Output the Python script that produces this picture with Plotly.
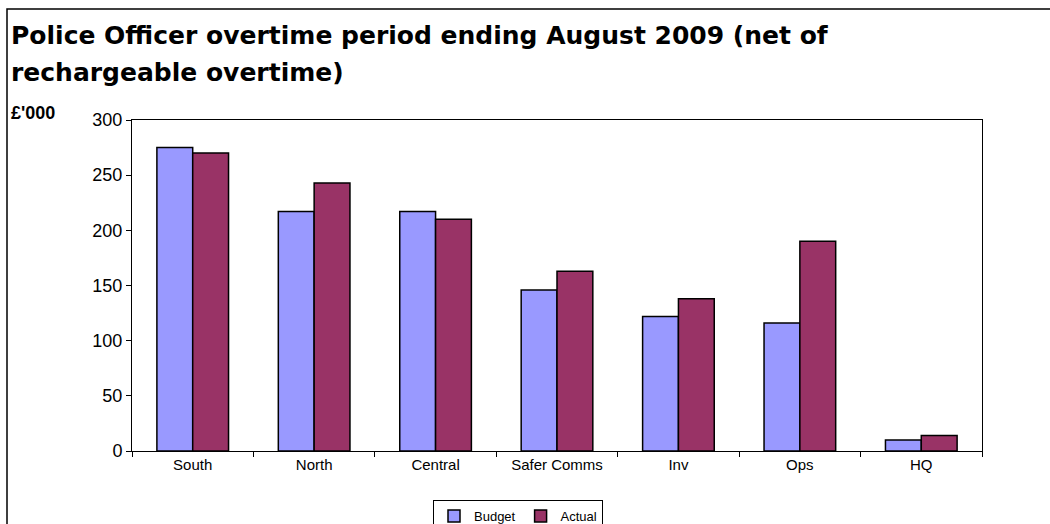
import plotly.graph_objects as go

categories = ["South", "North", "Central", "Safer Comms", "Inv", "Ops", "HQ"]
budget = [275, 217, 217, 146, 122, 116, 10]
actual = [270, 243, 210, 163, 138, 190, 14]
y_ticks = [0, 50, 100, 150, 200, 250, 300]

W, H = 1050, 524
L, R, T, B = 132, 982, 120, 451

def px(x):
    return (x - L) / (R - L)

def py(y):
    return (B - y) / (B - T)

fig = go.Figure()
fig.add_trace(go.Bar(name="Budget", x=categories, y=budget,
                     marker=dict(color="#9999FF", line=dict(color="black", width=1.5))))
fig.add_trace(go.Bar(name="Actual", x=categories, y=actual,
                     marker=dict(color="#993366", line=dict(color="black", width=1.5))))

fig.update_layout(
    width=W, height=H,
    margin=dict(l=L, r=W - R, t=T, b=H - B, autoexpand=False),
    paper_bgcolor="white", plot_bgcolor="white",
    barmode="group", bargap=0.41, bargroupgap=0,
    font=dict(family="Liberation Sans, Arial", color="black"),
    showlegend=True,
    legend=dict(orientation="h", x=px(518), xanchor="center", y=py(500), yanchor="top",
                bordercolor="black", borderwidth=1, font=dict(size=13),
                itemwidth=30, tracegroupgap=0),
    xaxis=dict(showline=True, linecolor="black", linewidth=1, mirror=True,
               ticks="outside", tickson="boundaries", ticklen=5, tickcolor="black",
               tickfont=dict(size=15), showgrid=False),
    yaxis=dict(range=[0, 300], tickvals=y_ticks, showline=True, linecolor="black",
               linewidth=1, mirror=True, ticks="outside", ticklen=5, tickcolor="black",
               tickfont=dict(size=18), showgrid=False, zeroline=False),
    shapes=[dict(type="rect", xref="paper", yref="paper",
                 x0=px(7), y0=py(560), x1=px(1070), y1=py(9),
                 line=dict(color="black", width=1.5), fillcolor="rgba(0,0,0,0)", layer="below")],
    annotations=[
        dict(text="<b>Police Officer overtime period ending August 2009 (net of</b>",
             xref="paper", yref="paper", x=px(9), y=py(35), xanchor="left", yanchor="middle",
             showarrow=False, font=dict(size=25, family="DejaVu Sans")),
        dict(text="<b>rechargeable overtime)</b>",
             xref="paper", yref="paper", x=px(9), y=py(72), xanchor="left", yanchor="middle",
             showarrow=False, font=dict(size=25, family="DejaVu Sans")),
        dict(text="<b>£'000</b>",
             xref="paper", yref="paper", x=px(9), y=py(113), xanchor="left", yanchor="middle",
             showarrow=False, font=dict(size=18)),
    ],
)

fig.write_html("out.html")
